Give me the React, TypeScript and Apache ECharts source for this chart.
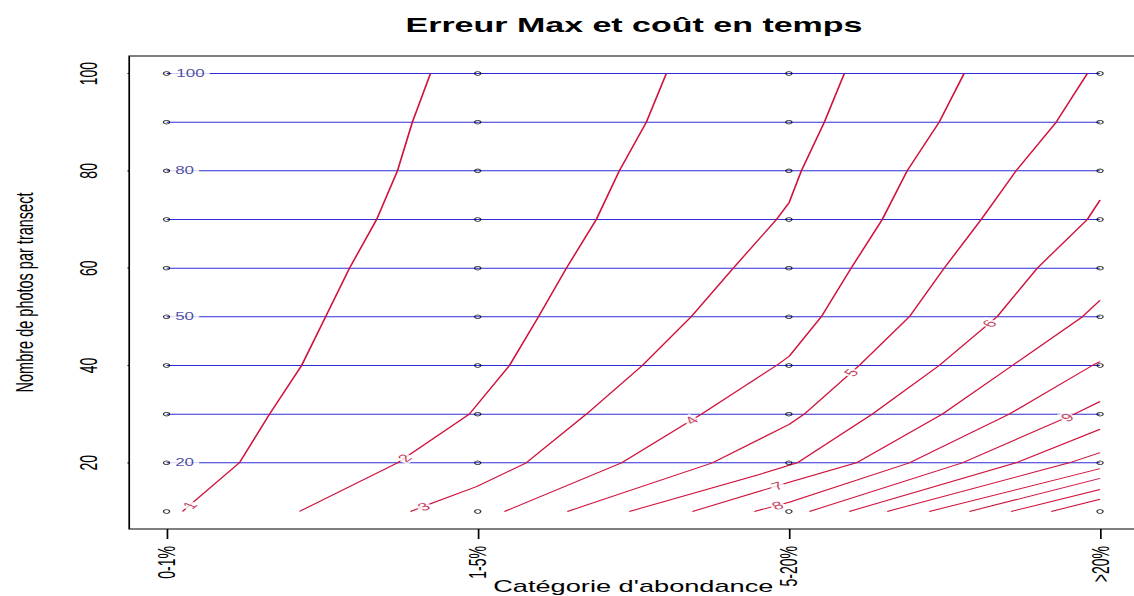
import React, { useEffect, useRef } from "react";
import * as echarts from "echarts";

// The reference is an R plot that was stretched horizontally; we draw it at its
// natural width and stretch the whole SVG with its viewBox.
const W0 = 667;
const H0 = 596;
const WF = 1134;

const FONT = '"Liberation Sans", Arial, sans-serif';

// ---- data ----
const categories = ["0-1%", "1-5%", "5-20%", ">20%"];
const categoryIdx = [0, 1, 2, 3];
const photoLevels = [10, 20, 30, 40, 50, 60, 70, 80, 90, 100];
const yTickValues = [20, 40, 60, 80, 100];

// horizontal (blue) contour lines of the time cost
const costLevels = [20, 30, 40, 50, 60, 70, 80, 90, 100];
const costLabelLevels = [100, 80, 50, 20];
const costLabelX = [0.077, 0.058, 0.058, 0.058];

// red contour lines of the max error (x = category index, y = photos)
const c1 = [[0.051, 10], [0.234, 20], [0.331, 30], [0.434, 40], [0.511, 50], [0.588, 60], [0.675, 70], [0.742, 80], [0.79, 90], [0.848, 100]];
const c2 = [[0.427, 10], [0.742, 20], [0.973, 30], [1.102, 40], [1.195, 50], [1.285, 60], [1.381, 70], [1.455, 80], [1.542, 90], [1.606, 100]];
const c3 = [[0.784, 10], [0.861, 11.9], [0.996, 15.1], [1.156, 20], [1.349, 30], [1.529, 40], [1.686, 50], [1.821, 60], [1.96, 70], [2.001, 73.5], [2.04, 80], [2.114, 90], [2.178, 100]];
const c4 = [[1.086, 10], [1.462, 20], [1.719, 30], [1.96, 40], [2.001, 41.9], [2.104, 50], [2.2, 60], [2.3, 70], [2.38, 80], [2.483, 90], [2.563, 100]];
const c5 = [[1.288, 10], [1.754, 20], [2.001, 27.9], [2.049, 30], [2.226, 40], [2.387, 50], [2.499, 60], [2.618, 70], [2.73, 80], [2.859, 90], [2.959, 100]];
const c6 = [[1.487, 10], [1.905, 17.6], [2.001, 19.5], [2.027, 20], [2.268, 30], [2.483, 40], [2.669, 50], [2.798, 60], [2.959, 70], [3, 74]];
const c7 = [[1.69, 10], [2.001, 16], [2.217, 20], [2.493, 30], [2.718, 40], [2.943, 50], [3, 53.4]];
const c8 = [[1.889, 10], [2.001, 11.9], [2.387, 20], [2.708, 30], [2.975, 40], [3, 40.8]];
const c9 = [[2.066, 10], [2.557, 20], [2.917, 30], [3, 32.6]];
const c10 = [[2.194, 10], [2.73, 20], [3, 26.9]];
const c11 = [[2.316, 10], [2.901, 20], [3, 22.1]];
const c12 = [[2.451, 10], [3, 18.8]];
const c13 = [[2.58, 10], [3, 16.8]];
const c14 = [[2.714, 10], [3, 14.5]];
const c15 = [[2.843, 10], [3, 12.5]];
const contours = [c1, c2, c3, c4, c5, c6, c7, c8, c9, c10, c11, c12, c13, c14, c15];

// contour labels: level and x position along the line
const contourLabelLevels = [1, 2, 3, 4, 5, 6, 7, 8, 9];
const contourLabelX = [0.074, 0.765, 0.826, 1.686, 2.2, 2.644, 1.963, 1.963, 2.894];

// ---- layout (unstretched pixels) ----
const GRID_LEFT = 76;
const GRID_TOP = 56;
const GRID_W = 593;
const GRID_H = 473;
const X_MIN = -0.12;
const X_MAX = 3.12;
const Y_MIN = 6.4;
const Y_MAX = 103.6;
const TICK_LEN = 10;
const KX = GRID_W / (X_MAX - X_MIN);
const KY = GRID_H / (Y_MAX - Y_MIN);

const RED = "#d0123c";
const BLUE = "#2d2dd8";

function pointOn(pts: number[][], x: number) {
  for (let i = 0; i < pts.length - 1; i++) {
    const [x1, y1] = pts[i];
    const [x2, y2] = pts[i + 1];
    if (x >= x1 && x <= x2) {
      const t = (x - x1) / (x2 - x1);
      const ang = (Math.atan2((y2 - y1) * KY, (x2 - x1) * KX) * 180) / Math.PI;
      return { y: y1 + t * (y2 - y1), angle: ang };
    }
  }
  const last = pts[pts.length - 1];
  return { y: last[1], angle: 0 };
}

export default function App() {
  const ref = useRef<HTMLDivElement>(null);

  useEffect(() => {
    const el = ref.current;
    if (!el) return;
    const chart = echarts.init(el, null, { renderer: "svg", width: W0, height: H0 });

    const series: any[] = [];

    costLevels.forEach((lv) => {
      series.push({
        type: "line",
        data: [[0, lv], [3, lv]],
        symbol: "none",
        color: BLUE,
        lineStyle: { color: BLUE, width: 1 },
        emphasis: { disabled: true },
        z: 2,
        silent: true,
      });
    });

    contours.forEach((pts) => {
      series.push({
        type: "line",
        data: pts,
        symbol: "none",
        color: RED,
        lineStyle: { color: RED, width: 1 },
        emphasis: { disabled: true },
        z: 3,
        silent: true,
      });
    });

    series.push({
      type: "scatter",
      data: categoryIdx.flatMap((cx) => photoLevels.map((py) => [cx, py])),
      symbol: "circle",
      symbolSize: 3.6,
      itemStyle: { color: "rgba(0,0,0,0)", borderColor: "#000", borderWidth: 0.8 },
      emphasis: { disabled: true },
      z: 4,
      silent: true,
    });

    // y-axis tick marks, outside the box (R style), through the axis scales
    yTickValues.forEach((v) => {
      series.push({
        type: "line",
        data: [[X_MIN - TICK_LEN / KX, v], [X_MIN, v]],
        symbol: "none",
        clip: false,
        color: "#000",
        lineStyle: { color: "#000", width: 1.2 },
        emphasis: { disabled: true },
        z: 6,
        silent: true,
      });
    });

    series.push({
      type: "scatter",
      data: costLabelLevels.map((lv, i) => ({ value: [costLabelX[i], lv], name: String(lv) })),
      symbolSize: 0,
      z: 5,
      silent: true,
      label: {
        show: true,
        position: "inside",
        formatter: (p: any) => p.name,
        color: "#22228a",
        fontSize: 10,
        fontFamily: FONT,
        backgroundColor: "#fff",
        padding: [0, 3],
      },
    });

    contourLabelLevels.forEach((lv, i) => {
      const x = contourLabelX[i];
      const { y, angle } = pointOn(contours[lv - 1], x);
      series.push({
        type: "scatter",
        data: [{ value: [x, y], name: String(lv) }],
        symbolSize: 0,
        z: 5,
        silent: true,
        label: {
          show: true,
          position: "inside",
          formatter: (p: any) => p.name,
          color: "#b4143c",
          fontSize: 11,
          fontFamily: FONT,
          rotate: angle,
          backgroundColor: "#fff",
          padding: [0, 1],
        },
      });
    });

    chart.setOption({
      animation: false,
      textStyle: { fontFamily: FONT },
      title: {
        text: "Erreur Max et coût en temps",
        left: 372.9,
        top: 15,
        padding: 0,
        textAlign: "center",
        textStyle: { fontSize: 20, fontWeight: "bold", color: "#000", fontFamily: FONT },
      },
      grid: {
        left: GRID_LEFT,
        top: GRID_TOP,
        width: GRID_W,
        height: GRID_H,
        show: true,
        borderColor: "#000",
        borderWidth: 1,
        backgroundColor: "rgba(0,0,0,0)",
        containLabel: false,
        outerBoundsMode: "none",
      },
      xAxis: {
        type: "value",
        min: X_MIN,
        max: X_MAX,
        axisLine: { show: false, onZero: false },
        splitLine: { show: false },
        minorSplitLine: { show: false },
        axisTick: { show: true, inside: false, customValues: categoryIdx, length: TICK_LEN, lineStyle: { color: "#000", width: 1 } },
        axisLabel: {
          customValues: categoryIdx,
          formatter: (v: number) => categories[Math.round(v)] ?? "",
          rotate: 90,
          fontSize: 14,
          margin: 17,
          color: "#000",
          fontFamily: FONT,
        },
        name: "Catégorie d'abondance",
        nameLocation: "middle",
        nameGap: 50,
        nameMoveOverlap: false,
        nameTextStyle: { fontSize: 16, color: "#000", fontFamily: FONT },
      },
      yAxis: {
        type: "value",
        min: Y_MIN,
        max: Y_MAX,
        axisLine: { show: false, onZero: false },
        splitLine: { show: false },
        minorSplitLine: { show: false },
        axisTick: { show: false },
        axisLabel: {
          customValues: yTickValues,
          rotate: 90,
          fontSize: 14,
          margin: 17,
          color: "#000",
          fontFamily: FONT,
        },
        name: "Nombre de photos par transect",
        nameLocation: "middle",
        nameGap: 54,
        nameMoveOverlap: false,
        nameTextStyle: { fontSize: 14.5, color: "#000", fontFamily: FONT },
      },
      series,
    });

    // stretch the drawing horizontally like the reference image
    const svg = el.querySelector("svg");
    if (svg) {
      svg.setAttribute("viewBox", `0 0 ${W0} ${H0}`);
      svg.setAttribute("preserveAspectRatio", "none");
      svg.setAttribute("width", String(WF));
      svg.style.width = WF + "px";
    }
    const inner = el.firstElementChild as HTMLElement | null;
    if (inner) inner.style.width = WF + "px";

    return () => chart.dispose();
  }, []);

  return (
    <div
      style={{
        position: "fixed",
        left: 0,
        top: 0,
        width: WF,
        height: H0,
        overflow: "hidden",
        background: "#fff",
      }}
    >
      <div ref={ref} style={{ width: WF, height: H0 }} />
    </div>
  );
}
